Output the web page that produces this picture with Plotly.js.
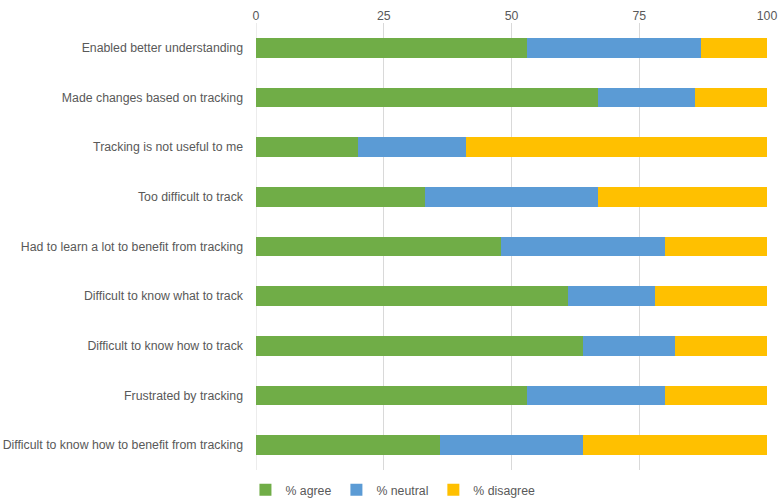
<!DOCTYPE html>
<html>
<head>
<meta charset="utf-8">
<script src="https://cdn.plot.ly/plotly-3.0.1.min.js"></script>
<style>html,body{margin:0;padding:0;background:#fff;}#chart{width:778px;height:501px;}</style>
</head>
<body>
<div id="chart"></div>
<script>
const categories = [
  "Enabled better understanding",
  "Made changes based on tracking",
  "Tracking is not useful to me",
  "Too difficult to track",
  "Had to learn a lot to benefit from tracking",
  "Difficult to know what to track",
  "Difficult to know how to track",
  "Frustrated by tracking",
  "Difficult to know how to benefit from tracking"
];
const agree    = [53, 67, 20, 33, 48, 61, 64, 53, 36];
const neutral  = [34, 19, 21, 34, 32, 17, 18, 27, 28];
const disagree = [13, 14, 59, 33, 20, 22, 18, 20, 36];
const seriesNames = ["% agree", "% neutral", "% disagree"];
const colors = ["#70ad47", "#5b9bd5", "#ffc000"];
const tickVals = [0, 25, 50, 75, 100];

const data = [agree, neutral, disagree].map((vals, i) => ({
  type: "bar",
  orientation: "h",
  name: seriesNames[i],
  x: vals,
  y: categories,
  marker: {color: colors[i], line: {width: 0}},
  hoverinfo: "x+name"
}));

const layout = {
  width: 778, height: 501,
  margin: {l: 256, r: 11, t: 23, b: 31, pad: 0, autoexpand: false},
  barmode: "stack",
  bargap: 0.6,
  paper_bgcolor: "#fff",
  plot_bgcolor: "#fff",
  font: {family: "Liberation Sans, Arial, sans-serif", size: 12.3, color: "#595959"},
  xaxis: {
    side: "top",
    range: [0, 100],
    tickvals: tickVals,
    ticktext: tickVals.map(String),
    showgrid: true,
    gridcolor: "#d9d9d9",
    gridwidth: 1,
    zeroline: false,
    showline: false,
    ticks: "",
    tickfont: {size: 12.3, color: "#595959"},
    fixedrange: true
  },
  yaxis: {
    type: "category",
    categoryorder: "array",
    categoryarray: categories,
    autorange: "reversed",
    showgrid: false,
    zeroline: false,
    showline: false,
    ticks: "",
    ticklabelstandoff: 12,
    tickfont: {size: 12.3, color: "#595959"},
    fixedrange: true
  },
  showlegend: true,
  legend: {
    orientation: "h",
    x: 0.268, xanchor: "center",
    y: -0.012, yanchor: "top",
    font: {size: 12.3, color: "#595959"},
    itemwidth: 30,
    traceorder: "normal"
  },
  shapes: [{
    type: "line", xref: "x", yref: "paper", x0: 0, x1: 0, y0: 0, y1: 1,
    line: {color: "#d9d9d9", width: 1}, layer: "below"
  }]
};

Plotly.newPlot("chart", data, layout, {displayModeBar: false, staticPlot: true});
</script>
</body>
</html>
